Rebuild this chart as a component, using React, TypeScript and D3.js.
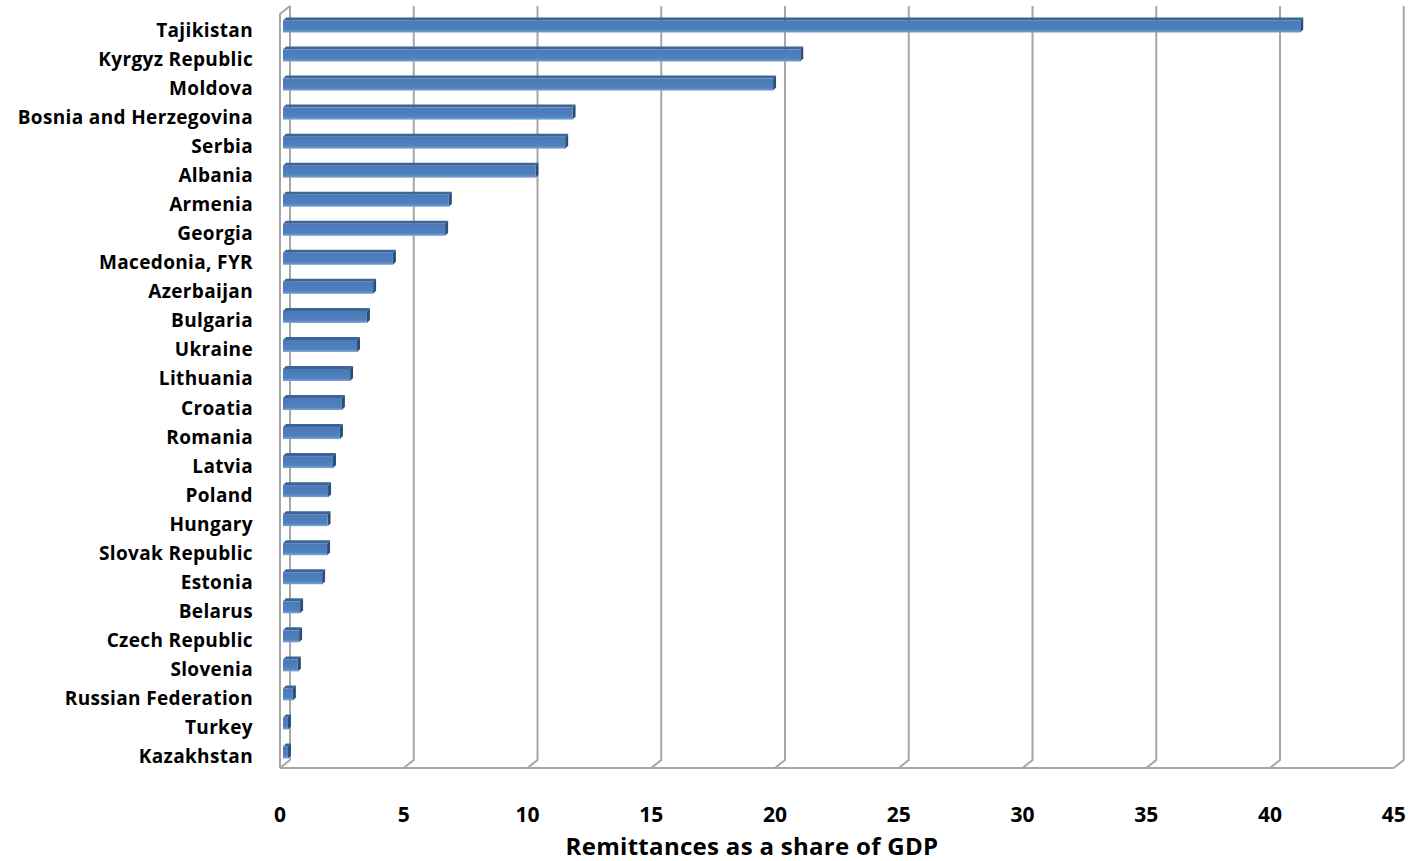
import React from "react";
import * as d3 from "d3";

// Remittances as a share of GDP, by country
const countries = [
  "Tajikistan", "Kyrgyz Republic", "Moldova", "Bosnia and Herzegovina", "Serbia",
  "Albania", "Armenia", "Georgia", "Macedonia, FYR", "Azerbaijan", "Bulgaria",
  "Ukraine", "Lithuania", "Croatia", "Romania", "Latvia", "Poland", "Hungary",
  "Slovak Republic", "Estonia", "Belarus", "Czech Republic", "Slovenia",
  "Russian Federation", "Turkey", "Kazakhstan",
];
const shares = [
  41.1, 20.9, 19.8, 11.7, 11.4, 10.2, 6.7, 6.55, 4.44, 3.64, 3.39, 2.99, 2.71,
  2.38, 2.3, 2.02, 1.82, 1.8, 1.78, 1.58, 0.69, 0.65, 0.6, 0.4, 0.2, 0.2,
];
const ticks = [0, 5, 10, 15, 20, 25, 30, 35, 40, 45];
const axisTitle = "Remittances as a share of GDP";

const W = 1408;
const H = 861;
const FONT = "'Open Sans', 'Noto Sans', sans-serif";

// oblique 3D projection: offsets of the back wall relative to the front plane
const WALL_DX = 10;
const WALL_DY = -8;
const BAR_DX = 3; // bar front face depth offset
const TOP_DX = 3; // bar depth (top/side faces)
const TOP_DY = -3;

export default function App() {
  const x = d3.scaleLinear().domain([0, 45]).range([280, 1393.75]);
  const y = d3.scalePoint<string>().domain(countries).range([31, 757]);

  const floorY = 768;
  const wallTop = 6;
  const grid = "#a6a6a6";

  const barH = 12;

  return (
    <svg width={W} height={H} style={{ display: "block", position: "absolute", left: 0, top: 0 }}>
      <defs>
        <linearGradient id="barFront" x1="0" y1="0" x2="0" y2="1">
          <stop offset="0%" stopColor="#4a7ab8" />
          <stop offset="75%" stopColor="#4f81bd" />
          <stop offset="100%" stopColor="#7ea3d2" />
        </linearGradient>
      </defs>
      <rect width={W} height={H} fill="#ffffff" />

      {/* back wall gridlines and floor */}
      <g stroke={grid} strokeWidth={2} fill="none">
        {ticks.map((t) => {
          const xb = x(t) + WALL_DX;
          const xf = x(t);
          return (
            <path
              key={t}
              d={`M${xb},${wallTop} L${xb},${floorY + WALL_DY} L${xf},${floorY}`}
            />
          );
        })}
        {/* floor front edge */}
        <line x1={x(0)} y1={floorY} x2={x(45)} y2={floorY} />
        {/* side wall front edge */}
        <path d={`M${x(0)},${floorY} L${x(0)},${wallTop - WALL_DY} L${x(0) + WALL_DX},${wallTop}`} />
      </g>

      {/* 3D bars */}
      <g>
        {countries.map((c, i) => {
          const v = shares[i];
          const yc = y(c)!;
          const top = yc - 10.5;
          const x0 = x(0) + BAR_DX;
          const x1 = x(v) + BAR_DX;
          const w = Math.max(x1 - x0, 0.5);
          return (
            <g key={c}>
              <path
                d={`M${x0},${top} L${x0 + TOP_DX},${top + TOP_DY} L${x1 + TOP_DX},${top + TOP_DY} L${x1},${top} Z`}
                fill="#3a6596"
              />
              <path
                d={`M${x1},${top} L${x1 + TOP_DX},${top + TOP_DY} L${x1 + TOP_DX},${top + TOP_DY + barH} L${x1},${top + barH} Z`}
                fill="#2c4e78"
              />
              <rect x={x0} y={top} width={w} height={barH} fill="url(#barFront)" />
            </g>
          );
        })}
      </g>

      {/* category labels */}
      <g fontFamily={FONT} fontWeight={700} fontSize={19} fill="#000" textAnchor="end" letterSpacing={0.35}>
        {countries.map((c) => (
          <text key={c} x={253} y={y(c)! - 1} dominantBaseline="central">
            {c}
          </text>
        ))}
      </g>

      {/* value axis labels */}
      <g fontFamily={FONT} fontWeight={700} fontSize={21} fill="#000" textAnchor="middle">
        {ticks.map((t) => (
          <text key={t} x={x(t)} y={814} dominantBaseline="central">
            {t}
          </text>
        ))}
      </g>

      <text
        x={752}
        y={845}
        textAnchor="middle"
        dominantBaseline="central"
        fontFamily={FONT}
        fontWeight={700}
        fontSize={24}
        letterSpacing={0.3}
        fill="#000"
      >
        {axisTitle}
      </text>
    </svg>
  );
}
